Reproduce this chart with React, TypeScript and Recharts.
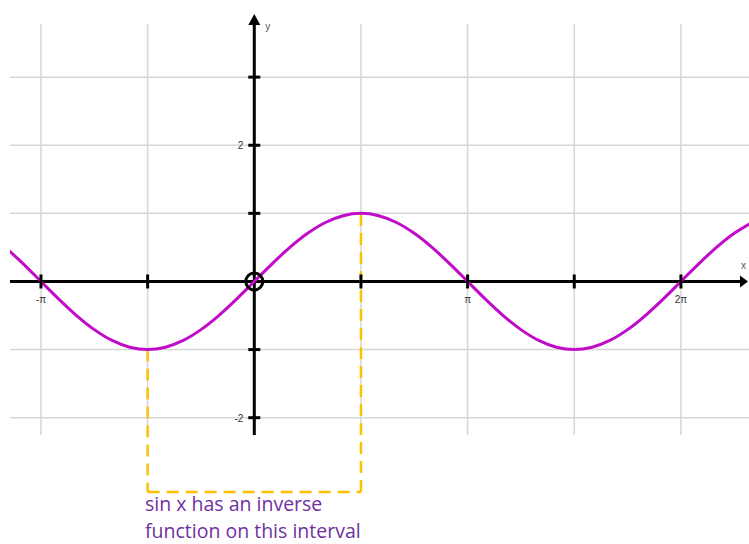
import React from 'react'
import {
	ComposedChart,
	Line,
	XAxis,
	YAxis,
	ReferenceLine,
	ReferenceDot,
} from 'recharts'

const PI = Math.PI

// sampled curve, every 15 degrees
const angleDeg = [
	-210, -195, -180, -165, -150, -135, -120, -105, -90, -75, -60, -45, -30, -15, 0, 15, 30, 45, 60, 75, 90,
	105, 120, 135, 150, 165, 180, 195, 210, 225, 240, 255, 270, 285, 300, 315, 330, 345, 360, 375, 390, 405, 420,
]
const sinValues = [
	0.5, 0.259, 0, -0.259, -0.5, -0.707, -0.866, -0.966, -1, -0.966, -0.866, -0.707, -0.5, -0.259, 0, 0.259, 0.5,
	0.707, 0.866, 0.966, 1, 0.966, 0.866, 0.707, 0.5, 0.259, 0, -0.259, -0.5, -0.707, -0.866, -0.966, -1, -0.966,
	-0.866, -0.707, -0.5, -0.259, 0, 0.259, 0.5, 0.707, 0.866,
]

// grid and ticks
const xGrid = [-PI, -PI / 2, 0, PI / 2, PI, (3 * PI) / 2, 2 * PI]
const yGrid = [-2, -1, 1, 2, 3]
const xTicks = [-PI, -PI / 2, PI / 2, PI, (3 * PI) / 2, 2 * PI]
const xTickLabels = ['-π', '', '', 'π', '', '2π']
const yTicks = [-2, -1, 1, 2, 3]
const yTickLabels = ['-2', '', '', '2', '']

// the interval where sin x is one-to-one
const intervalStart = -PI / 2
const intervalEnd = PI / 2
const boxBottom = -3.09
const noteLines = ['sin x has an inverse', 'function on this interval']

const data = angleDeg.map((d, i) => ({ x: (d * PI) / 180, y: sinValues[i] }))

const X_DOMAIN: [number, number] = [-3.598, 7.286]
const Y_DOMAIN: [number, number] = [-2.254, 3.78]

const GRID = '#d6d6d6'
const CURVE = '#c00bc8'
const BOX = '#ffc000'

const YAxisShape = (p: any) => {
	const top = Math.min(p.y1, p.y2)
	const bottom = Math.max(p.y1, p.y2)
	const x = p.x1
	return (
		<g>
			<line x1={x} y1={top} x2={x} y2={bottom} stroke='#000' strokeWidth={3} />
			<polygon points={`${x},${top - 10} ${x - 6},${top + 1} ${x + 6},${top + 1}`} fill='#000' />
			<text x={x + 11} y={top + 6} fontSize={10} fill='#555' fontFamily='Liberation Sans'>
				y
			</text>
		</g>
	)
}

const XAxisShape = (p: any) => {
	const left = Math.min(p.x1, p.x2)
	const right = Math.max(p.x1, p.x2) - 1
	const y = p.y1
	return (
		<g>
			<line x1={left} y1={y} x2={right - 4} y2={y} stroke='#000' strokeWidth={3} />
			<polygon points={`${right},${y} ${right - 8},${y - 6} ${right - 8},${y + 6}`} fill='#000' />
			<text x={right - 7} y={y - 12} fontSize={10} fill='#555' fontFamily='Liberation Sans'>
				x
			</text>
		</g>
	)
}

const xTickShape = (label: string) => (p: any) => (
	<g>
		<line x1={p.cx} y1={p.cy - 7} x2={p.cx} y2={p.cy + 7} stroke='#000' strokeWidth={3} />
		{label && (
			<text x={p.cx} y={p.cy + 22} textAnchor='middle' fontSize={10} fill='#333' fontFamily='Liberation Sans'>
				{label}
			</text>
		)}
	</g>
)

const yTickShape = (label: string) => (p: any) => (
	<g>
		<line x1={p.cx - 6} y1={p.cy} x2={p.cx + 6} y2={p.cy} stroke='#000' strokeWidth={3} />
		{label && (
			<text x={p.cx - 11} y={p.cy + 4} textAnchor='end' fontSize={10} fill='#333' fontFamily='Liberation Sans'>
				{label}
			</text>
		)}
	</g>
)

const OriginRing = (p: any) => (
	<circle cx={p.cx} cy={p.cy} r={8.5} fill='none' stroke='#000' strokeWidth={3} />
)

const App = () => {
	return (
		<div style={{ position: 'absolute', left: 0, top: 0, width: 749, height: 544, background: '#fff' }}>
			<ComposedChart
				width={749}
				height={544}
				data={data}
				margin={{ top: 24, right: 0, left: 10, bottom: 109 }}>
				<XAxis type='number' dataKey='x' domain={X_DOMAIN} allowDataOverflow hide />
				<YAxis type='number' domain={Y_DOMAIN} allowDataOverflow hide />

				{xGrid.map((v) => (
					<ReferenceLine key={'gx' + v} x={v} stroke={GRID} strokeWidth={1.5} />
				))}
				{yGrid.map((v) => (
					<ReferenceLine key={'gy' + v} y={v} stroke={GRID} strokeWidth={1.5} />
				))}

				<ReferenceLine x={0} shape={YAxisShape} ifOverflow='visible' />
				<ReferenceLine y={0} shape={XAxisShape} ifOverflow='visible' />

				{xTicks.map((v, i) => (
					<ReferenceDot key={'tx' + v} x={v} y={0} r={0} shape={xTickShape(xTickLabels[i])} />
				))}
				{yTicks.map((v, i) => (
					<ReferenceDot key={'ty' + v} x={0} y={v} r={0} shape={yTickShape(yTickLabels[i])} />
				))}

				<ReferenceDot x={0} y={0} r={8.5} shape={OriginRing} />

				<ReferenceLine
					segment={[
						{ x: intervalStart, y: -1 },
						{ x: intervalStart, y: boxBottom },
					]}
					ifOverflow='visible'
					stroke={BOX}
					strokeWidth={2.5}
					strokeDasharray='12 7'
				/>
				<ReferenceLine
					segment={[
						{ x: intervalStart, y: boxBottom },
						{ x: intervalEnd, y: boxBottom },
					]}
					ifOverflow='visible'
					stroke={BOX}
					strokeWidth={2.5}
					strokeDasharray='12 7'
				/>
				<ReferenceLine
					segment={[
						{ x: intervalEnd, y: boxBottom },
						{ x: intervalEnd, y: 1 },
					]}
					ifOverflow='visible'
					stroke={BOX}
					strokeWidth={2.5}
					strokeDasharray='12 7'
				/>

				<Line
					type='monotone'
					dataKey='y'
					stroke={CURVE}
					strokeWidth={3}
					dot={false}
					isAnimationActive={false}
				/>
			</ComposedChart>
			<div
				style={{
					position: 'absolute',
					left: 145,
					top: 491,
					fontFamily: '"Open Sans", sans-serif',
					fontSize: 19.5,
					lineHeight: '26.5px',
					color: '#7030a0',
					whiteSpace: 'nowrap',
				}}>
				{noteLines[0]}
				<br />
				{noteLines[1]}
			</div>
		</div>
	)
}

export default App
